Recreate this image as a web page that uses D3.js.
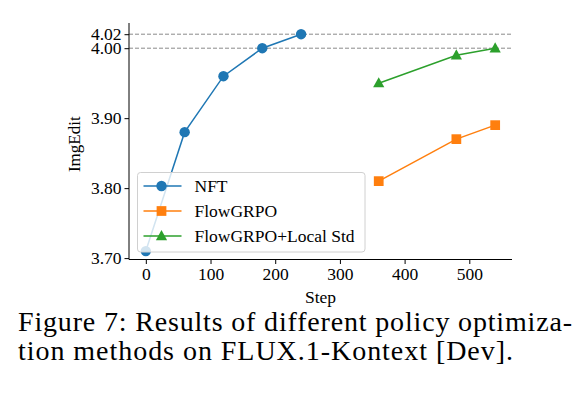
<!DOCTYPE html>
<html>
<head>
<meta charset="utf-8">
<script src="https://cdn.jsdelivr.net/npm/d3@7"></script>
<style>
	body { margin: 0; background: #fff; }
	svg text { font-family: "Liberation Serif", "Times New Roman", serif; fill: #000; }
</style>
</head>
<body>
<svg id="chart" width="582" height="398"></svg>
<script>
// data
var nftSteps = [0, 60, 120, 180, 240];
var nftScores = [3.71, 3.88, 3.96, 4.00, 4.02];
var grpoSteps = [360, 480, 540];
var grpoScores = [3.81, 3.87, 3.89];
var localSteps = [360, 480, 540];
var localScores = [3.95, 3.99, 4.00];
var xTicks = [0, 100, 200, 300, 400, 500];
var yTicks = [3.70, 3.80, 3.90, 4.00, 4.02];
var refLines = [4.02, 4.00];
var captionLines = ['Figure 7: Results of different policy optimiza-', 'tion methods on FLUX.1-Kontext [Dev].'];

var series = [
	{ key: 'NFT', color: '#1f77b4', marker: 'circle', x: nftSteps, y: nftScores },
	{ key: 'FlowGRPO', color: '#ff7f0e', marker: 'square', x: grpoSteps, y: grpoScores },
	{ key: 'FlowGRPO+Local Std', color: '#2ca02c', marker: 'triangle', x: localSteps, y: localScores }
];

var svg = d3.select('#chart');
var m = { left: 129, right: 512, top: 23, bottom: 259.5 };

var x = d3.scaleLinear().domain([-26, 566]).range([m.left, m.right]);
var y = d3.scaleLinear().domain([3.698, 4.036]).range([m.bottom, m.top]);

// dashed reference lines
svg.selectAll('.ref').data(refLines).enter().append('line')
	.attr('x1', m.left).attr('x2', m.right)
	.attr('y1', function(d) { return y(d); }).attr('y2', function(d) { return y(d); })
	.attr('stroke', '#8a8a8a').attr('stroke-width', 1)
	.attr('stroke-dasharray', '4,2');

function markerPath(type) {
	if (type === 'circle') return d3.symbol(d3.symbolCircle, 85)();
	if (type === 'square') return d3.symbol(d3.symbolSquare, 95)();
	return 'M0,-6L5.6,4.2L-5.6,4.2Z';
}

var line = d3.line()
	.x(function(d) { return x(d[0]); })
	.y(function(d) { return y(d[1]); });

series.forEach(function(s) {
	var pts = s.x.map(function(v, i) { return [v, s.y[i]]; });
	svg.append('path').datum(pts)
		.attr('d', line).attr('fill', 'none')
		.attr('stroke', s.color).attr('stroke-width', 1.5);
	svg.selectAll(null).data(pts).enter().append('path')
		.attr('d', markerPath(s.marker))
		.attr('transform', function(d) { return 'translate(' + x(d[0]) + ',' + y(d[1]) + ')'; })
		.attr('fill', s.color);
});

// axes
var xAxis = svg.append('g').attr('transform', 'translate(0,' + m.bottom + ')')
	.call(d3.axisBottom(x).tickValues(xTicks).tickSizeOuter(0).tickSize(4.5).tickPadding(3.5));
var yAxis = svg.append('g').attr('transform', 'translate(' + m.left + ',0)')
	.call(d3.axisLeft(y).tickValues(yTicks).tickFormat(d3.format('.2f')).tickSizeOuter(0).tickSize(4.5).tickPadding(3));

[xAxis, yAxis].forEach(function(a) {
	a.select('.domain').attr('stroke', '#000').attr('stroke-width', 1);
	a.selectAll('.tick line').attr('stroke', '#000').attr('stroke-width', 1);
	a.selectAll('.tick text').style('font-family', '"Liberation Serif", serif').style('font-size', '17.5px').attr('fill', '#000');
});
xAxis.select('.domain').attr('d', 'M' + m.left + ',0H' + m.right);
yAxis.select('.domain').attr('d', 'M0,' + m.bottom + 'V' + m.top);

svg.append('text').attr('x', (m.left + m.right) / 2).attr('y', 303)
	.attr('text-anchor', 'middle').style('font-size', '17.5px').text('Step');
svg.append('text').attr('transform', 'translate(80,' + ((m.top + m.bottom) / 2 + 3) + ') rotate(-90)')
	.attr('text-anchor', 'middle').style('font-size', '17px').text('ImgEdit');

// legend
var legend = svg.append('g').attr('transform', 'translate(137.5,172.5)');
legend.append('rect').attr('width', 227.5).attr('height', 79.5).attr('rx', 3)
	.attr('fill', '#fff').attr('fill-opacity', 0.8)
	.attr('stroke', '#d0d0d0').attr('stroke-width', 1);

var item = legend.selectAll('.legend').data(series).enter().append('g')
	.classed('legend', true)
	.attr('transform', function(d, i) { return 'translate(0,' + (13.5 + i * 25) + ')'; });
item.append('line').attr('x1', 6).attr('x2', 44).attr('stroke', function(d) { return d.color; }).attr('stroke-width', 1.5);
item.append('path').attr('d', function(d) { return markerPath(d.marker); })
	.attr('transform', 'translate(24,0)').attr('fill', function(d) { return d.color; });
item.append('text').attr('x', 57).attr('dy', '.35em').style('font-size', '17.5px').text(function(d) { return d.key; });

// caption (first line justified in the source, so stretch to its width)
var captionWidths = [554, 495];
svg.selectAll('.caption').data(captionLines).enter().append('text')
	.attr('x', 18).attr('y', function(d, i) { return 331 + i * 29; })
	.attr('textLength', function(d, i) { return captionWidths[i]; })
	.attr('lengthAdjust', 'spacing')
	.style('font-size', '28px').text(function(d) { return d; });
</script>
</body>
</html>
